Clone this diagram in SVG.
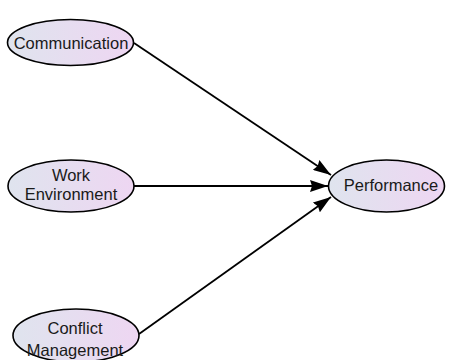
<svg xmlns="http://www.w3.org/2000/svg" width="450" height="360" viewBox="0 0 450 360">
  <defs>
    <linearGradient id="nodeFill" x1="0" y1="0" x2="1" y2="0">
      <stop offset="0" stop-color="#dfe4ee"/>
      <stop offset="1" stop-color="#eed6f2"/>
    </linearGradient>
    <marker id="arrow" viewBox="0 0 18 12" refX="18" refY="6" markerWidth="18" markerHeight="12" markerUnits="userSpaceOnUse" orient="auto">
      <path d="M0,0 L18,6 L0,12 L2,6 Z" fill="#000"/>
    </marker>
  </defs>
  <style>
    .node ellipse { fill: url(#nodeFill); stroke: #000; stroke-width: 1.6; }
    .node text { font-family: "Liberation Sans", Arial, sans-serif; font-size: 16.5px; fill: #1a1a1a; text-anchor: middle; }
    .edges line { stroke: #000; stroke-width: 1.8; marker-end: url(#arrow); }
  </style>
  <rect width="450" height="360" fill="#fff"/>

  <g class="edges">
    <line x1="134" y1="43" x2="331" y2="175"/>
    <line x1="134" y1="186" x2="328" y2="186"/>
    <line x1="139" y1="334" x2="331" y2="197"/>
  </g>

  <g id="communication" class="node">
    <ellipse cx="70.5" cy="42.5" rx="63" ry="23"/>
    <text x="71" y="48.5">Communication</text>
  </g>

  <g id="work-environment" class="node">
    <ellipse cx="71" cy="186" rx="63" ry="26"/>
    <text x="71" y="181">Work</text>
    <text x="71" y="200">Environment</text>
  </g>

  <g id="conflict-management" class="node">
    <ellipse cx="76" cy="335.5" rx="63" ry="26.5"/>
    <text x="75" y="333.5">Conflict</text>
    <text x="75" y="356">Management</text>
  </g>

  <g id="performance" class="node">
    <ellipse cx="386.5" cy="186" rx="58" ry="26"/>
    <text x="391" y="191">Performance</text>
  </g>
</svg>
